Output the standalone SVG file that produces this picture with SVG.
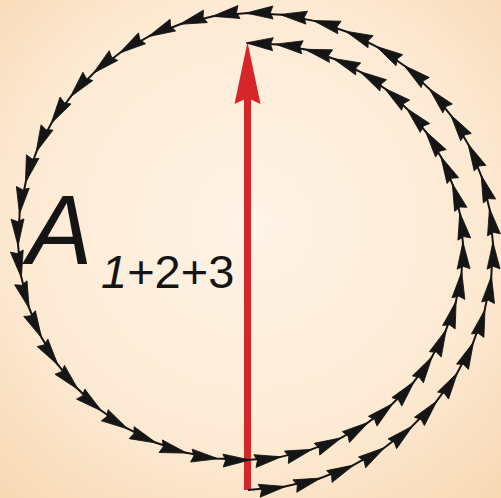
<svg xmlns="http://www.w3.org/2000/svg" width="501" height="498" viewBox="0 0 501 498">
  <defs>
    <radialGradient id="bg" cx="50%" cy="45%" r="75%">
      <stop offset="0" stop-color="#fff4e8"/>
      <stop offset="0.6" stop-color="#fdead3"/>
      <stop offset="1" stop-color="#f8d7b2"/>
    </radialGradient>
    <marker id="dart" markerUnits="userSpaceOnUse" orient="auto" overflow="visible" markerWidth="1" markerHeight="1" refX="0" refY="0">
      <path d="M2,0 L-25,-6.5 L-22.5,0 L-25,6.5 Z" fill="#151515" stroke="#151515" stroke-width="0.8" stroke-linejoin="miter"/>
    </marker>
  </defs>
  <style>
    .spiral { fill: none; stroke: #151515; stroke-width: 2; marker-mid: url(#dart); marker-end: url(#dart); }
    .lbl { font-family: "Liberation Sans", Arial, sans-serif; fill: #141414; }
  </style>
  <rect x="0" y="0" width="501" height="498" fill="url(#bg)"/>
  <g id="resultant">
    <line x1="247.5" y1="490" x2="247.5" y2="98" stroke="#d5262a" stroke-width="7"/>
    <polygon points="247.5,42 234.5,104 247.5,98 260.5,104" fill="#d5262a"/>
  </g>
  <g id="connectors">
    <polyline class="spiral" points="248,490 283.8,486.8 318.8,478.7 352.0,465.9 383.0,448.7 411.1,427.3 435.7,402.4 456.4,374.4 472.7,343.9 484.4,311.6 491.2,278.0 493,244 489.8,210.2 481.8,177.2 469.0,145.8 451.8,116.5 430.6,90.1 405.8,66.8 377.9,47.4 347.5,32.0 315.3,21.1 281.9,14.7 248,13 214.3,16.0 181.5,23.7 150.2,35.7 121.1,52.0 94.7,72.0 71.6,95.4 52.2,121.7 36.9,150.3 26.0,180.7 19.7,212.1 18,244 21.0,275.7 28.6,306.6 40.7,336.0 56.8,363.4 76.8,388.1 100.1,409.8 126.2,428.0 154.7,442.3 184.9,452.6 216.2,458.5 248,460 279.6,457.1 310.3,449.9 339.6,438.6 366.8,423.4 391.5,404.7 413.1,382.8 431.2,358.2 445.4,331.5 455.6,303.1 461.5,273.8 463,244 460.1,214.4 453.0,185.6 441.7,158.2 426.6,132.8 407.9,109.7 386.1,89.5 361.7,72.6 335.1,59.3 306.8,49.8 277.6,44.4 248,43"/>
  </g>
  <g id="label">
    <text class="lbl" x="27" y="264" font-size="98" font-style="italic">A</text>
    <text class="lbl" x="101" y="288" font-size="47"><tspan font-style="italic">1</tspan>+2+3</text>
  </g>
</svg>
